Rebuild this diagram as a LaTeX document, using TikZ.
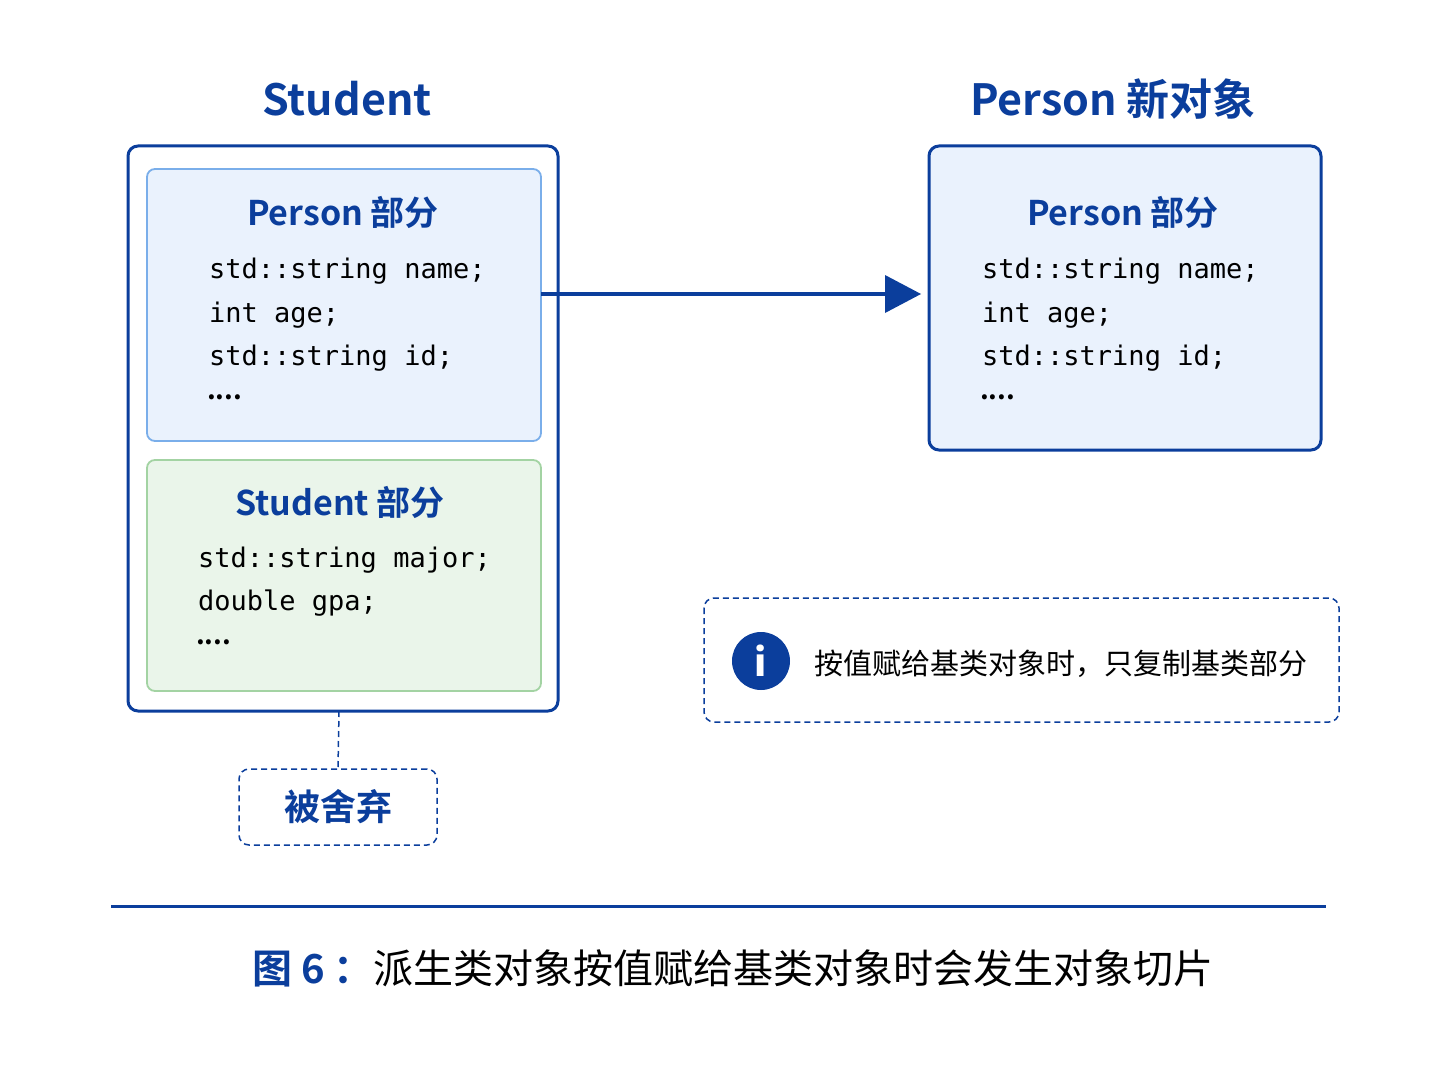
\documentclass[tikz,border=0pt]{standalone}
\usepackage{fontspec}
\setmainfont{Noto Sans CJK SC}
\newfontfamily\cjk{Noto Sans CJK SC}
\newfontfamily\cjkb{Noto Sans CJK SC Bold}
\setmonofont{DejaVu Sans Mono}
\begin{document}
\definecolor{dblue}{HTML}{0B3E9C}
\definecolor{lblue}{HTML}{EAF2FD}
\definecolor{bblue}{HTML}{7AAEEA}
\definecolor{lgreen}{HTML}{EAF5EA}
\definecolor{bgreen}{HTML}{A3D3A3}
\begin{tikzpicture}[x=1pt,y=-1pt,
  ttl/.style={font=\cjkb\fontsize{43}{48}\selectfont,text=dblue},
  sub/.style={font=\cjkb\fontsize{34}{38}\selectfont,text=dblue},
  code/.style={font=\ttfamily\fontsize{27}{30}\selectfont,anchor=west,inner sep=0},
  dots/.style={font=\cjkb\fontsize{27}{30}\selectfont,anchor=west,inner sep=0},
  dbox/.style={draw=dblue,line width=1.5pt,dash pattern=on 6pt off 4pt,rounded corners=10pt}]
\useasboundingbox (0,0) rectangle (1448,1086);
\node[ttl] (t1) at (347,99) {Student};
\node[ttl] (t2) at (1113,99) {Person 新对象};
\draw[dblue,line width=3pt,rounded corners=10pt,fill=white] (128,146) rectangle (558,711);
\draw[bblue,line width=1.8pt,rounded corners=8pt,fill=lblue] (147,169) rectangle (541,441);
\draw[bgreen,line width=1.8pt,rounded corners=8pt,fill=lgreen] (147,460) rectangle (541,691);
\draw[dblue,line width=3pt,rounded corners=10pt,fill=lblue] (929,146) rectangle (1321,450);
\node[sub] (p1) at (343,212) {Person 部分};
\node[code] (c1) at (209,271) {std::string name;};
\node[code] (c2) at (209,315) {int age;};
\node[code] (c3) at (209,358) {std::string id;};
\node[dots] (c4) at (207,397) {....};
\node[sub] (s1) at (340,502) {Student 部分};
\node[code] (d1) at (198,560) {std::string major;};
\node[code] (d2) at (198,603) {double gpa;};
\node[dots] (d3) at (196,642) {....};
\node[sub] (p2) at (1123,212) {Person 部分};
\node[code] (e1) at (982,271) {std::string name;};
\node[code] (e2) at (982,315) {int age;};
\node[code] (e3) at (982,358) {std::string id;};
\node[dots] (e4) at (980,397) {....};
\coordinate (as) at (541,294);
\coordinate (ae) at (921,294);
\coordinate (ab) at (890,294);
\draw[dblue,line width=4.5pt] (as) -- (ab);
\fill[dblue] (ae) -- (885,275) -- (885,313) -- cycle;
\draw[dbox] (704,598) rectangle (1339,722);
\node[circle,fill=dblue,minimum size=58pt,inner sep=0,text=white,font=\fontsize{38}{38}\selectfont\bfseries\rmfamily] (ic) at (761,661) {\textbf{i}};
\node[anchor=west,inner sep=0,font=\cjk\fontsize{29}{32}\selectfont] (it) at (814,664) {按值赋给基类对象时，只复制基类部分};
\node[dbox,minimum width=198pt,minimum height=76pt,text=dblue,font=\cjkb\fontsize{36}{40}\selectfont] (dis) at (338,807) {被舍弃};
\coordinate (sb) at (339,711);
\draw[dblue,line width=1.5pt,dash pattern=on 6pt off 4pt] (sb) -- (dis.north);
\draw[dblue,line width=3pt] (111,906) -- (1326,906);
\node[anchor=west,inner sep=0] (cap) at (252,968) {{\cjkb\fontsize{40}{46}\selectfont\color{dblue}图 6 ：}{\cjk\fontsize{40}{46}\selectfont 派生类对象按值赋给基类对象时会发生对象切片}};
\end{tikzpicture}
\end{document}
